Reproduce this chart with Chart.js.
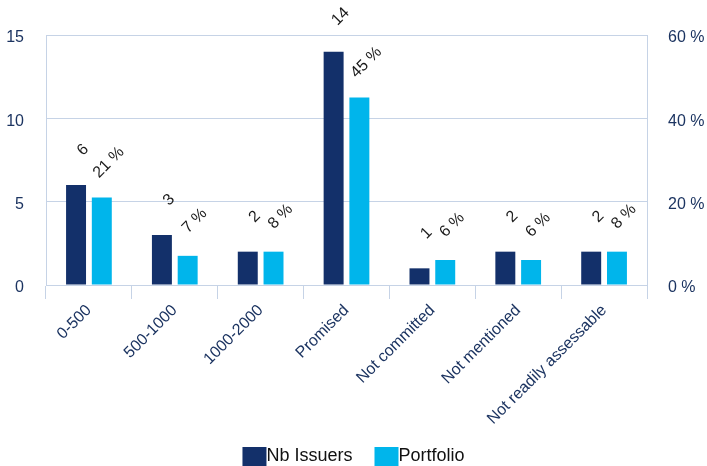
<!DOCTYPE html>
<html>
<head>
<meta charset="utf-8">
<script src="https://cdn.jsdelivr.net/npm/chart.js@4/dist/chart.umd.min.js"></script>
<style>
  html, body { margin: 0; padding: 0; background: #ffffff; }
  #wrap { width: 707px; height: 466px; }
</style>
</head>
<body>
<div id="wrap"><canvas id="chart" width="707" height="466"></canvas></div>
<script>
// Categories and series
const categories = ['0-500', '500-1000', '1000-2000', 'Promised', 'Not committed', 'Not mentioned', 'Not readily assessable'];
const nbIssuers = [6, 3, 2, 14, 1, 2, 2];
const portfolioPct = [21, 7, 8, 45, 6, 6, 8];
const leftTicks = [0, 5, 10, 15];
const rightTicks = [0, 20, 40, 60];

const NAVY = '#13306a';
const CYAN = '#00b5eb';
const GRID = '#c6d3e6';
const TICK_TEXT = '#1c3461';
const FONT = '"Liberation Sans", Arial, Helvetica, sans-serif';

// Rotated value labels above each bar
const barLabels = {
  id: 'barLabels',
  afterDatasetsDraw(chart) {
    const ctx = chart.ctx;
    ctx.save();
    ctx.font = '16px ' + FONT;
    ctx.fillStyle = '#1a1a1a';
    ctx.textAlign = 'center';
    ctx.textBaseline = 'middle';
    chart.data.datasets.forEach((ds, di) => {
      const meta = chart.getDatasetMeta(di);
      meta.data.forEach((el, i) => {
        const v = ds.data[i];
        const txt = di === 0 ? String(v) : v + ' %';
        ctx.save();
        ctx.translate(el.x + 7, el.y - 35);
        ctx.rotate(-Math.PI / 4);
        ctx.fillText(txt, 0, 0);
        ctx.restore();
      });
    });
    ctx.restore();
  }
};

// Legend: square swatch directly followed by its series name
const bottomLegend = {
  id: 'bottomLegend',
  afterDraw(chart) {
    const ctx = chart.ctx;
    ctx.save();
    ctx.font = '18px ' + FONT;
    ctx.textBaseline = 'middle';
    ctx.textAlign = 'left';
    const box = 24, gap = 22;
    const items = chart.data.datasets.map(ds => ({ label: ds.label, color: ds.backgroundColor, w: ctx.measureText(ds.label).width }));
    const total = items.reduce((s, it) => s + box + it.w, 0) + gap * (items.length - 1);
    let x = (chart.width - total) / 2;
    const top = 447, mid = 456;
    items.forEach(it => {
      ctx.fillStyle = it.color;
      ctx.fillRect(x, top, box, 22);
      ctx.fillStyle = '#111111';
      ctx.fillText(it.label, x + box, mid);
      x += box + it.w + gap;
    });
    ctx.restore();
  }
};

new Chart(document.getElementById('chart'), {
  type: 'bar',
  data: {
    labels: categories,
    datasets: [
      { label: 'Nb Issuers', data: nbIssuers, backgroundColor: NAVY, yAxisID: 'y', categoryPercentage: 0.6, barPercentage: 0.775 },
      { label: 'Portfolio', data: portfolioPct, backgroundColor: CYAN, yAxisID: 'y2', categoryPercentage: 0.6, barPercentage: 0.775 }
    ]
  },
  options: {
    responsive: false,
    devicePixelRatio: 1,
    animation: false,
    layout: { padding: { top: 35, left: 0, right: 0, bottom: 0 } },
    plugins: {
      legend: { display: false },
      tooltip: { enabled: false }
    },
    scales: {
      x: {
        offset: true,
        afterFit(scale) { scale.height = 181; },
        grid: { display: true, offset: true, drawOnChartArea: false, drawTicks: true, tickLength: 14, color: GRID },
        border: { display: true, color: GRID },
        ticks: { autoSkip: false, minRotation: 45, maxRotation: 45, padding: 2, color: TICK_TEXT, font: { family: FONT, size: 16 } }
      },
      y: {
        position: 'left',
        min: 0, max: 15,
        afterFit(scale) { scale.width = 46; },
        afterBuildTicks(scale) { scale.ticks = leftTicks.map(v => ({ value: v })); },
        grid: { color: GRID, drawTicks: false },
        border: { display: true, color: GRID },
        ticks: { padding: 22, labelOffset: 3, color: TICK_TEXT, font: { family: FONT, size: 16 } }
      },
      y2: {
        position: 'right',
        min: 0, max: 60,
        afterFit(scale) { scale.width = 60; },
        afterBuildTicks(scale) { scale.ticks = rightTicks.map(v => ({ value: v })); },
        grid: { drawOnChartArea: false, drawTicks: false },
        border: { display: true, color: GRID },
        ticks: { padding: 21, labelOffset: 3, color: TICK_TEXT, font: { family: FONT, size: 16 }, callback: v => v + ' %' }
      }
    }
  },
  plugins: [barLabels, bottomLegend]
});
</script>
</body>
</html>
